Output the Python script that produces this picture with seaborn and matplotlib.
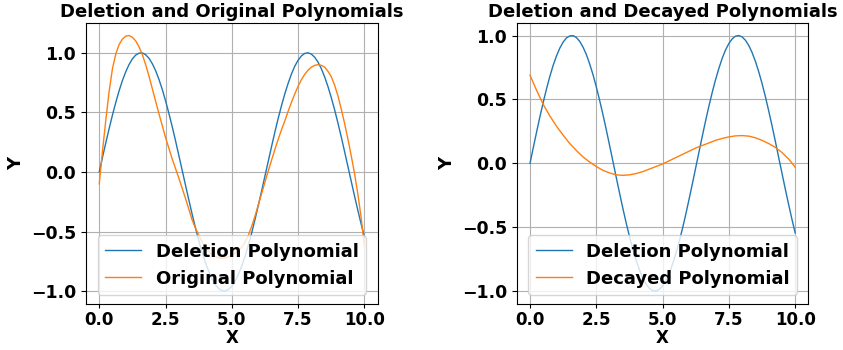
import numpy as np
import matplotlib
matplotlib.use("Agg")
import matplotlib.pyplot as plt
import seaborn as sns

plt.rcParams['font.family'] = ['DejaVu Sans']
plt.rcParams['font.weight'] = 'bold'
plt.rcParams['axes.labelweight'] = 'bold'
plt.rcParams['axes.titleweight'] = 'bold'
plt.rcParams['font.size'] = 13

# sample positions along X
x_fine = np.arange(0, 10.0625, 0.125)
x_coarse = np.arange(0, 10.25, 0.25)

# Deletion polynomial
deletion = [0.0, 0.125, 0.247, 0.366, 0.479, 0.585, 0.682, 0.768, 0.841, 0.902,
            0.949, 0.981, 0.997, 0.999, 0.984, 0.954, 0.909, 0.851, 0.778, 0.694,
            0.598, 0.493, 0.382, 0.264, 0.141, 0.017, -0.108, -0.231, -0.351, -0.465,
            -0.572, -0.670, -0.757, -0.832, -0.895, -0.944, -0.978, -0.996, -0.999, -0.986,
            -0.959, -0.917, -0.859, -0.789, -0.706, -0.612, -0.510, -0.398, -0.279, -0.158,
            -0.033, 0.091, 0.215, 0.336, 0.451, 0.558, 0.657, 0.745, 0.823, 0.888,
            0.938, 0.974, 0.995, 1.000, 0.989, 0.963, 0.922, 0.867, 0.798, 0.717,
            0.625, 0.523, 0.412, 0.296, 0.174, 0.049, -0.075, -0.199, -0.319, -0.435,
            -0.544]

# Original polynomial
original = [-0.10, 0.18, 0.44, 0.68, 0.87, 0.99, 1.07, 1.115, 1.14, 1.145,
            1.13, 1.10, 1.05, 0.985, 0.90, 0.805, 0.70, 0.595, 0.49, 0.39,
            0.29, 0.20, 0.11, 0.03, -0.05, -0.135, -0.22, -0.31, -0.40, -0.47,
            -0.53, -0.585, -0.63, -0.665, -0.69, -0.71, -0.72, -0.725, -0.72, -0.71,
            -0.70, -0.68, -0.66, -0.63, -0.59, -0.53, -0.455, -0.37, -0.275, -0.18,
            -0.085, 0.01, 0.10, 0.19, 0.275, 0.355, 0.43, 0.51, 0.585, 0.655,
            0.72, 0.775, 0.82, 0.855, 0.88, 0.895, 0.90, 0.895, 0.88, 0.845,
            0.80, 0.73, 0.64, 0.53, 0.41, 0.28, 0.14, -0.01, -0.18, -0.38,
            -0.62]

# Decayed polynomial
decayed = [0.69, 0.57, 0.46, 0.37, 0.29, 0.22, 0.155, 0.10, 0.05, 0.01,
           -0.025, -0.055, -0.075, -0.09, -0.094, -0.09, -0.08, -0.065, -0.045, -0.025,
           -0.005, 0.02, 0.045, 0.07, 0.095, 0.12, 0.14, 0.16, 0.18, 0.195,
           0.207, 0.215, 0.217, 0.213, 0.20, 0.18, 0.155, 0.125, 0.085, 0.035, -0.03]

fig = plt.figure(figsize=(8.43, 3.5), dpi=100)
ax1 = fig.add_axes([0.102, 0.132, 0.346, 0.803])
ax2 = fig.add_axes([0.613, 0.132, 0.346, 0.803])

# left: deletion vs original
sns.lineplot(x=x_fine, y=deletion, ax=ax1, label='Deletion Polynomial', color='C0', linewidth=1)
sns.lineplot(x=x_fine, y=original, ax=ax1, label='Original Polynomial', color='C1', linewidth=1)
ax1.set_title('Deletion and Original Polynomials', fontsize=13, pad=4)

# right: deletion vs decayed
sns.lineplot(x=x_fine, y=deletion, ax=ax2, label='Deletion Polynomial', color='C0', linewidth=1)
sns.lineplot(x=x_coarse, y=decayed, ax=ax2, label='Decayed Polynomial', color='C1', linewidth=1)
ax2.set_title('Deletion and Decayed Polynomials', fontsize=13, pad=4)

for ax in (ax1, ax2):
    ax.set_xlabel('X', fontsize=12, labelpad=0)
    ax.set_ylabel('Y')
    ax.set_xticks([0, 2.5, 5, 7.5, 10])
    ax.tick_params(axis='both', labelsize=12.5)
    ax.tick_params(axis='x', labelsize=12, length=3, pad=2)
    ax.grid(True)
    ax.legend(loc='lower center', fontsize=13)

plt.savefig('out.png', dpi=100)
